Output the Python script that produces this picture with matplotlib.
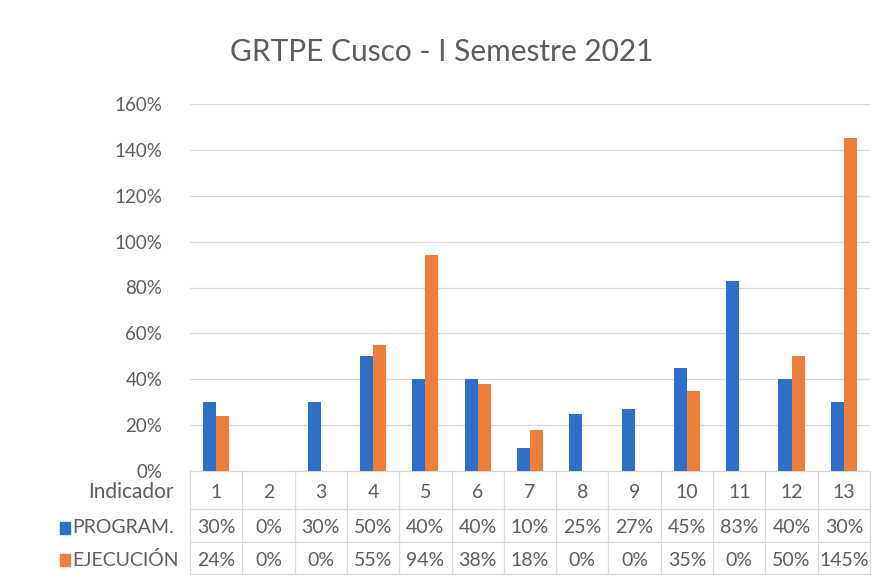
import matplotlib.pyplot as plt
import matplotlib.transforms as mtransforms
import numpy as np

# Chart data
indicadores = ['1', '2', '3', '4', '5', '6', '7', '8', '9', '10', '11', '12', '13']
programado = [0.30, 0.00, 0.30, 0.50, 0.40, 0.40, 0.10, 0.25, 0.27, 0.45, 0.83, 0.40, 0.30]
ejecucion = [0.24, 0.00, 0.00, 0.55, 0.94, 0.38, 0.18, 0.00, 0.00, 0.35, 0.00, 0.50, 1.45]
series_names = ['PROGRAM.', 'EJECUCIÓN']
yticks = [0, 0.2, 0.4, 0.6, 0.8, 1.0, 1.2, 1.4, 1.6]

blue = '#2F6FCC'
orange = '#EE7F3A'
text_col = '#5E5E5E'
grid_col = '#D9D9D9'

plt.rcParams['font.family'] = ['Lato', 'DejaVu Sans']

fig = plt.figure(figsize=(8.83, 5.84), dpi=100)
W, H = 883, 584
ax = fig.add_axes([190 / W, (H - 471) / H, 680 / W, (471 - 104) / H])

x = np.arange(len(indicadores))
bw = 0.25
ax.bar(x - bw / 2, programado, bw, color=blue, zorder=3)
ax.bar(x + bw / 2, ejecucion, bw, color=orange, zorder=3)

ax.set_xlim(-0.5, len(indicadores) - 0.5)
ax.set_ylim(0, 1.6)
ax.set_yticks(yticks)
ax.set_yticklabels(['{:.0f}%'.format(v * 100) for v in yticks])
ax.tick_params(axis='y', length=0, labelsize=13.5, labelcolor=text_col, pad=20)
ax.set_xticks([])
ax.grid(axis='y', color=grid_col, linewidth=0.9, zorder=0)
for s in ax.spines.values():
    s.set_visible(False)

fig.text(0.5, (H - 52) / H, 'GRTPE Cusco - I Semestre 2021', ha='center', va='center',
         fontsize=21.5, color=text_col)

# Data table below the plot, x in data units, y in axes units
tr = mtransforms.blended_transform_factory(ax.transData, ax.transAxes)
px = 1 / (471 - 104)  # one pixel in axes units
row_tops = [0, -38, -71, -103]
row_y = [(row_tops[i] + row_tops[i + 1]) / 2 - 2 for i in range(3)]
tsize = 14

# horizontal table lines
for yy in row_tops[1:]:
    ax.plot([-0.5, len(indicadores) - 0.5], [yy * px] * 2, transform=tr, color=grid_col,
            lw=0.9, clip_on=False)
    ax.plot([30 / W, 190 / W], [(H - 471 + yy) / H] * 2, transform=fig.transFigure,
            color=grid_col, lw=0.9)
ax.plot([-0.5, len(indicadores) - 0.5], [0, 0], transform=tr, color=grid_col, lw=0.9,
        clip_on=False)
# vertical table lines
for b in np.arange(len(indicadores) + 1) - 0.5:
    ax.plot([b, b], [0, row_tops[-1] * px], transform=tr, color=grid_col, lw=0.9,
            clip_on=False)

for i, lab in enumerate(indicadores):
    ax.text(x[i], row_y[0] * px, lab, transform=tr, ha='center', va='center',
            fontsize=tsize, color=text_col)
    ax.text(x[i], row_y[1] * px, '{:.0f}%'.format(programado[i] * 100), transform=tr,
            ha='center', va='center', fontsize=tsize, color=text_col)
    ax.text(x[i], row_y[2] * px, '{:.0f}%'.format(ejecucion[i] * 100), transform=tr,
            ha='center', va='center', fontsize=tsize, color=text_col)

# row labels
fig.text(174 / W, (H - 471 + row_y[0]) / H, 'Indicador', ha='right', va='center',
         fontsize=15, color=text_col)
for name, col, ry in zip(series_names, [blue, orange], row_y[1:]):
    yf = (H - 471 + ry) / H
    fig.patches.append(plt.Rectangle((60 / W, yf - 6 / H), 10 / W, 12 / H,
                                     transform=fig.transFigure, color=col))
    fig.text(72 / W, yf, name, ha='left', va='center', fontsize=tsize, color=text_col)

fig.savefig('out.png', dpi=100)
